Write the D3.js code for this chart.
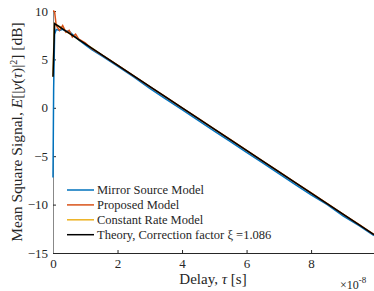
<!DOCTYPE html>
<html>
<head>
<meta charset="utf-8">
<script src="https://cdn.jsdelivr.net/npm/d3@7"></script>
<style>
  body { margin: 0; background: #fff; }
  svg text { font-family: 'Liberation Serif', 'Times New Roman', Times, serif !important; fill: #262626; }
</style>
</head>
<body>
<div id="chart"></div>
<script>
// delay values in units of 1e-8 s
let delay = [0, 0.02, 0.05, 0.1, 0.2, 0.3, 0.4, 0.5, 0.6, 0.7, 0.8, 1.0, 1.2, 1.5, 2.0, 2.5, 3.0, 3.5, 4.0, 4.5, 5.0, 5.5, 6.0, 6.5, 7.0, 7.5, 8.0, 8.5, 9.0, 9.5, 9.95];

let mirror = [-7.2, 2.0, 7.6, 8.1, 8.0, 8.1, 7.9, 7.9, 7.6, 7.3, 7.0, 6.5, 6.0, 5.4, 4.3, 3.2, 2.0, 0.9, -0.2, -1.3, -2.4, -3.5, -4.6, -5.7, -6.8, -7.9, -9.0, -10.0, -11.2, -12.2, -13.2];
let proposed = [10.0, 10.0, 9.9, 8.5, 8.0, 8.5, 7.8, 8.0, 7.3, 7.6, 7.1, 6.7, 6.1, 5.5, 4.4, 3.3, 2.2, 1.1, 0.0, -1.1, -2.2, -3.3, -4.4, -5.5, -6.6, -7.7, -8.8, -9.9, -11.0, -12.1, -13.1];
let constRate = [3.2, 6.0, 8.7, 8.6, 8.4, 8.2, 7.9, 7.7, 7.5, 7.3, 7.0, 6.6, 6.2, 5.5, 4.4, 3.3, 2.2, 1.1, 0.0, -1.1, -2.2, -3.3, -4.4, -5.5, -6.6, -7.7, -8.8, -9.9, -11.0, -12.1, -13.1];
let theoryX = [0, 0.05, 9.95];
let theory = [3.2, 8.7, -13.1];

let seriesNames = ["Mirror Source Model", "Proposed Model", "Constant Rate Model", "Theory, Correction factor \u03BE =1.086"];
let seriesColors = ["#0072BD", "#D95319", "#EDB120", "#000000"];
let xTicks = [0, 2, 4, 6, 8];
let yTicks = [-15, -10, -5, 0, 5, 10];

let W = 374, H = 291;
let margin = {top: 11, right: 0, bottom: 38, left: 53};

let svg = d3.select("#chart").append("svg")
  .attr("width", W).attr("height", H);

let w = W - margin.left - margin.right;
let h = H - margin.top - margin.bottom;

let g = svg.append("g")
  .attr("transform", "translate(" + margin.left + "," + margin.top + ")");

let xScale = d3.scaleLinear().domain([0, 9.95]).range([0, w]);
let yScale = d3.scaleLinear().domain([-15, 10]).range([h, 0]);

// axes
let xAxis = g.append("g").attr("transform", "translate(0," + h + ")")
  .call(d3.axisBottom(xScale).tickValues(xTicks).tickSizeInner(-3).tickSizeOuter(0).tickPadding(6));
let yAxis = g.append("g")
  .call(d3.axisLeft(yScale).tickValues(yTicks).tickSizeInner(-3).tickSizeOuter(0).tickPadding(5));

[xAxis, yAxis].forEach(a => {
  a.attr("font-family", null).attr("font-size", null);
  a.selectAll("text").style("font-size", "13px");
  a.selectAll("line").attr("stroke", "#262626");
});
xAxis.select(".domain").attr("stroke", "#262626");
yAxis.select(".domain").attr("stroke", "#888");

// lines
let line = d3.line().x(d => xScale(d[0])).y(d => yScale(d[1]));
let allSeries = [
  d3.zip(delay, mirror),
  d3.zip(delay, proposed),
  d3.zip(delay, constRate),
  d3.zip(theoryX, theory)
];
let order = [2, 0, 1, 3];
order.forEach(i => {
  g.append("path")
    .attr("d", line(allSeries[i]))
    .attr("fill", "none")
    .attr("stroke", seriesColors[i])
    .attr("stroke-width", 1.5);
});

// legend
let leg = g.append("g").attr("transform", "translate(14,179)");
seriesNames.forEach((name, i) => {
  let row = leg.append("g").attr("transform", "translate(0," + (i * 14.9) + ")");
  row.append("line").attr("x1", 0).attr("x2", 27).attr("y1", 0).attr("y2", 0)
    .attr("stroke", seriesColors[i]).attr("stroke-width", 1.5);
  row.append("text").attr("x", 30).attr("y", 4.3)
    .style("font-size", "12.5px").text(name);
});

// axis labels
let xl = svg.append("text")
  .attr("x", 213).attr("y", 284)
  .attr("text-anchor", "middle").style("font-size", "15px");
xl.append("tspan").text("Delay, ");
xl.append("tspan").style("font-style", "italic").text("\u03C4");
xl.append("tspan").text(" [s]");

let ex = svg.append("text").attr("x", 340).attr("y", 289).style("font-size", "12px");
ex.append("tspan").text("\u00D710");
ex.append("tspan").attr("dy", -6).style("font-size", "9px").text("-8");

let yl = svg.append("text")
  .attr("transform", "translate(22," + (margin.top + h / 2) + ") rotate(-90)")
  .attr("text-anchor", "middle").style("font-size", "15.5px");
yl.append("tspan").text("Mean Square Signal, ");
yl.append("tspan").style("font-style", "italic").text("E");
yl.append("tspan").text("[|");
yl.append("tspan").style("font-style", "italic").text("y");
yl.append("tspan").text("(");
yl.append("tspan").style("font-style", "italic").text("\u03C4");
yl.append("tspan").text(")|");
yl.append("tspan").attr("dy", -5).style("font-size", "10px").text("2");
yl.append("tspan").attr("dy", 5).text("] [dB]");
</script>
</body>
</html>
